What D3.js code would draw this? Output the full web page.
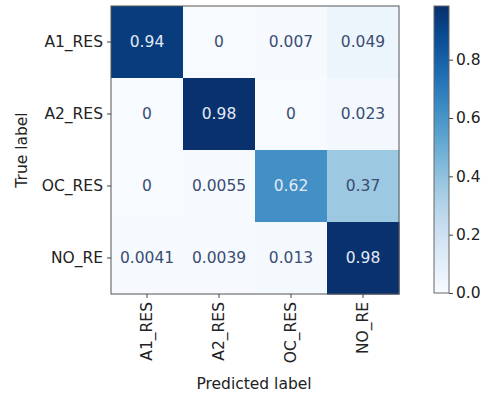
<!DOCTYPE html>
<html>
<head>
<meta charset="utf-8">
<script src="https://cdn.jsdelivr.net/npm/d3@7"></script>
<style>
  body { margin: 0; background: #fff; }
  text { font-family: "DejaVu Sans", sans-serif; }
</style>
</head>
<body>
<svg id="chart" width="483" height="396"></svg>
<script>
const trueLabels = ['A1_RES', 'A2_RES', 'OC_RES', 'NO_RE'];
const predLabels = ['A1_RES', 'A2_RES', 'OC_RES', 'NO_RE'];
const matrix = [
  [0.94, 0, 0.007, 0.049],
  [0, 0.98, 0, 0.023],
  [0, 0.0055, 0.62, 0.37],
  [0.0041, 0.0039, 0.013, 0.98]
];
const cbarTicks = [0.0, 0.2, 0.4, 0.6, 0.8];
const vmax = 0.984;

const svg = d3.select('#chart');
const mLeft = 111, mTop = 6, size = 288;
const fs = 15.5;

const x = d3.scaleBand().domain(predLabels).range([mLeft, mLeft + size]);
const y = d3.scaleBand().domain(trueLabels).range([mTop, mTop + size]);
const color = d3.scaleSequential(d3.interpolateBlues).domain([0, vmax]);

const cells = [];
matrix.forEach((row, i) => row.forEach((v, j) => cells.push({ t: trueLabels[i], p: predLabels[j], v })));

svg.selectAll('rect.cell')
  .data(cells)
  .join('rect')
    .attr('class', 'cell')
    .attr('x', d => x(d.p))
    .attr('y', d => y(d.t))
    .attr('width', x.bandwidth() + 0.5)
    .attr('height', y.bandwidth() + 0.5)
    .attr('fill', d => color(d.v));

svg.selectAll('text.val')
  .data(cells)
  .join('text')
    .attr('class', 'val')
    .attr('x', d => x(d.p) + x.bandwidth() / 2)
    .attr('y', d => y(d.t) + y.bandwidth() / 2)
    .attr('dy', '0.35em')
    .attr('text-anchor', 'middle')
    .attr('font-size', fs)
    .attr('fill', d => d.v > vmax / 2 ? '#e3eaf5' : '#3b4d72')
    .text(d => d.v);

svg.append('rect')
  .attr('x', mLeft).attr('y', mTop)
  .attr('width', size).attr('height', size)
  .attr('fill', 'none').attr('stroke', '#555').attr('stroke-width', 1);

const xAxis = svg.append('g')
  .attr('transform', `translate(0,${mTop + size})`)
  .call(d3.axisBottom(x).tickSize(4).tickPadding(4));
xAxis.select('.domain').remove();
xAxis.selectAll('text')
  .attr('font-size', fs).attr('fill', '#222')
  .attr('transform', 'rotate(-90)')
  .attr('text-anchor', 'end')
  .attr('x', -8).attr('y', 0).attr('dy', '0.35em');
xAxis.selectAll('line').attr('stroke', '#444');

const yAxis = svg.append('g')
  .attr('transform', `translate(${mLeft},0)`)
  .call(d3.axisLeft(y).tickSize(4).tickPadding(4));
yAxis.select('.domain').remove();
yAxis.selectAll('text').attr('font-size', fs).attr('fill', '#222');
yAxis.selectAll('line').attr('stroke', '#444');

svg.append('text')
  .attr('x', mLeft + size / 2 - 1).attr('y', 389)
  .attr('text-anchor', 'middle').attr('font-size', fs).attr('fill', '#222')
  .text('Predicted label');

svg.append('text')
  .attr('transform', `translate(27,${mTop + size / 2}) rotate(-90)`)
  .attr('text-anchor', 'middle').attr('font-size', fs).attr('fill', '#222')
  .text('True label');

// colorbar
const cbX = 434, cbW = 15, cbTop = 6, cbBottom = 293;
const cy = d3.scaleLinear().domain([0, vmax]).range([cbBottom, cbTop]);
const defs = svg.append('defs');
const grad = defs.append('linearGradient')
  .attr('id', 'cbgrad').attr('x1', 0).attr('y1', 1).attr('x2', 0).attr('y2', 0);
d3.range(0, 1.0001, 0.05).forEach(t => {
  grad.append('stop').attr('offset', t).attr('stop-color', color(t * vmax));
});
svg.append('rect')
  .attr('x', cbX).attr('y', cbTop)
  .attr('width', cbW).attr('height', cbBottom - cbTop)
  .attr('fill', 'url(#cbgrad)')
  .attr('stroke', '#666').attr('stroke-width', 1);

const cAxis = svg.append('g')
  .attr('transform', `translate(${cbX + cbW},0)`)
  .call(d3.axisRight(cy).tickValues(cbarTicks).tickFormat(d3.format('.1f')).tickSize(4).tickPadding(3));
cAxis.select('.domain').remove();
cAxis.selectAll('text').attr('font-size', fs).attr('fill', '#222');
cAxis.selectAll('line').attr('stroke', '#444');
</script>
</body>
</html>
